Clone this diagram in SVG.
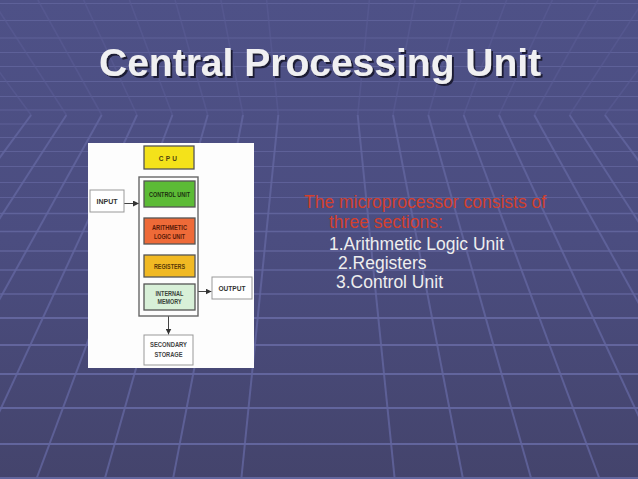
<svg xmlns="http://www.w3.org/2000/svg" width="638" height="479" viewBox="0 0 638 479">
  <defs>
    <linearGradient id="bg" x1="0" y1="0" x2="0" y2="1">
      <stop offset="0" stop-color="#4e5187"/>
      <stop offset="0.5" stop-color="#4b4d80"/>
      <stop offset="1" stop-color="#44446c"/>
    </linearGradient>
    <filter id="shadow" x="-5%" y="-20%" width="110%" height="150%">
      <feOffset in="SourceAlpha" dx="2" dy="2" result="off"/>
      <feFlood flood-color="#1e1e36" result="col"/>
      <feComposite in="col" in2="off" operator="in" result="sh"/>
      <feMerge>
        <feMergeNode in="sh"/>
        <feMergeNode in="SourceGraphic"/>
      </feMerge>
    </filter>
    <marker id="ah" viewBox="0 0 6 6" refX="6" refY="3" markerWidth="6" markerHeight="6" orient="auto" markerUnits="userSpaceOnUse">
      <path d="M0,0 L6,3 L0,6 Z" fill="#333"/>
    </marker>
    <style>
      .hl { stroke: #6669a2; fill: none; }
      .hu { stroke-width: 1.2; opacity: 0.7; }
      .hm { stroke-width: 1.6; opacity: 0.8; }
      .hb { stroke-width: 2.2; opacity: 0.9; }
      .vf { stroke: #6366a0; stroke-width: 2; fill: none; opacity: 0.8; }
      .vc { stroke: #5a5c95; stroke-width: 1.6; fill: none; opacity: 0.6; }
      .title { font-family: "Liberation Sans", Arial, sans-serif; font-weight: bold; font-size: 39px; }
      .body { font-family: "Liberation Sans", Arial, sans-serif; font-size: 17.5px; }
      .bx { stroke: #555; stroke-width: 1.3; }
      .bt { font-family: "Liberation Sans", Arial, sans-serif; font-weight: bold; font-size: 6.5px; text-anchor: middle; }
      .conn { stroke: #444; stroke-width: 1; fill: none; }
    </style>
  </defs>

  <!-- background -->
  <rect x="0" y="0" width="638" height="479" fill="url(#bg)"/>
  <g id="background-grid">
    <g class="hl hu">
      <line x1="0" y1="3.5" x2="638" y2="3.5"/>
      <line x1="0" y1="20.5" x2="638" y2="20.5"/>
      <line x1="0" y1="38" x2="638" y2="38"/>
      <line x1="0" y1="52.5" x2="638" y2="52.5"/>
      <line x1="0" y1="66.5" x2="638" y2="66.5"/>
      <line x1="0" y1="81.5" x2="638" y2="81.5"/>
      <line x1="0" y1="96.5" x2="638" y2="96.5"/>
      <line x1="0" y1="110" x2="638" y2="110"/>
      <line x1="0" y1="124" x2="638" y2="124"/>
      <line x1="0" y1="137.5" x2="638" y2="137.5"/>
      <line x1="0" y1="151.5" x2="638" y2="151.5"/>
      <line x1="0" y1="166.5" x2="638" y2="166.5"/>
      <line x1="0" y1="182.5" x2="638" y2="182.5"/>
      <line x1="0" y1="197.5" x2="638" y2="197.5"/>
    </g>
    <g class="hl hm">
      <line x1="0" y1="213.5" x2="638" y2="213.5"/>
      <line x1="0" y1="231.5" x2="638" y2="231.5"/>
      <line x1="0" y1="251" x2="638" y2="251"/>
      <line x1="0" y1="270" x2="638" y2="270"/>
      <line x1="0" y1="294" x2="638" y2="294"/>
    </g>
    <g class="hl hb">
      <line x1="0" y1="318" x2="638" y2="318"/>
      <line x1="0" y1="345" x2="638" y2="345"/>
      <line x1="0" y1="374" x2="638" y2="374"/>
      <line x1="0" y1="408" x2="638" y2="408"/>
      <line x1="0" y1="444" x2="638" y2="444"/>
      <line x1="0" y1="478" x2="638" y2="478"/>
    </g>
    <g class="vf">
      <line x1="278.3" y1="115" x2="241.3" y2="479"/>
      <line x1="243" y1="115" x2="173" y2="479"/>
      <line x1="207.7" y1="115" x2="104.7" y2="479"/>
      <line x1="172.4" y1="115" x2="36.4" y2="479"/>
      <line x1="137" y1="115" x2="-31.9" y2="479"/>
      <line x1="101.7" y1="115" x2="-100.2" y2="479"/>
      <line x1="66.4" y1="115" x2="-168.5" y2="479"/>
      <line x1="31.1" y1="115" x2="-236.8" y2="479"/>
      <line x1="357.7" y1="115" x2="394.7" y2="479"/>
      <line x1="393" y1="115" x2="463" y2="479"/>
      <line x1="428.3" y1="115" x2="531.3" y2="479"/>
      <line x1="463.6" y1="115" x2="599.6" y2="479"/>
      <line x1="499" y1="115" x2="667.9" y2="479"/>
      <line x1="534.3" y1="115" x2="736.2" y2="479"/>
      <line x1="569.6" y1="115" x2="804.5" y2="479"/>
      <line x1="604.9" y1="115" x2="872.8" y2="479"/>
    </g>
    <g class="vc">
      <line x1="278.3" y1="115" x2="266.6" y2="0"/>
      <line x1="243" y1="115" x2="220.9" y2="0"/>
      <line x1="207.7" y1="115" x2="175.1" y2="0"/>
      <line x1="172.4" y1="115" x2="129.4" y2="0"/>
      <line x1="137" y1="115" x2="83.6" y2="0"/>
      <line x1="101.7" y1="115" x2="37.9" y2="0"/>
      <line x1="66.4" y1="115" x2="-7.9" y2="0"/>
      <line x1="31.1" y1="115" x2="-53.6" y2="0"/>
      <line x1="357.7" y1="115" x2="369.4" y2="0"/>
      <line x1="393" y1="115" x2="415.1" y2="0"/>
      <line x1="428.3" y1="115" x2="460.9" y2="0"/>
      <line x1="463.6" y1="115" x2="506.6" y2="0"/>
      <line x1="499" y1="115" x2="552.4" y2="0"/>
      <line x1="534.3" y1="115" x2="598.1" y2="0"/>
      <line x1="569.6" y1="115" x2="643.9" y2="0"/>
      <line x1="604.9" y1="115" x2="689.6" y2="0"/>
    </g>
  </g>

  <g id="title">
    <text class="title" x="99" y="76" fill="#f0f0f2" filter="url(#shadow)">Central Processing Unit</text>
  </g>

  <rect id="panel" x="88" y="143" width="166" height="225" fill="#fdfdfd"/>

  <g id="connectors">
    <line class="conn" x1="124" y1="203.5" x2="139" y2="203.5" marker-end="url(#ah)"/>
    <line class="conn" x1="198" y1="291.5" x2="211.5" y2="291.5" marker-end="url(#ah)"/>
    <line class="conn" x1="168.5" y1="316" x2="168.5" y2="334.5" marker-end="url(#ah)"/>
  </g>

  <g id="cpu-label">
    <rect class="bx" x="144" y="146" width="50" height="23" fill="#f4e21a"/>
    <text class="bt" x="169" y="161" font-size="9px" fill="#4d4110" letter-spacing="2.2">CPU</text>
  </g>

  <g id="cpu-container">
    <rect x="139" y="177" width="59" height="139" fill="none" stroke="#666" stroke-width="1.4"/>
  </g>

  <g id="control-unit">
    <rect class="bx" x="144" y="181" width="51" height="26" fill="#5cbb36"/>
    <text class="bt" x="169.5" y="196.5" fill="#1c3310" textLength="41" lengthAdjust="spacingAndGlyphs">CONTROL UNIT</text>
  </g>

  <g id="alu">
    <rect class="bx" x="144" y="218" width="51" height="26" fill="#ee6a38"/>
    <text class="bt" x="169.5" y="230" fill="#5a1a08" textLength="35" lengthAdjust="spacingAndGlyphs">ARITHMETIC</text>
    <text class="bt" x="169.5" y="238.5" fill="#5a1a08" textLength="31" lengthAdjust="spacingAndGlyphs">LOGIC UNIT</text>
  </g>

  <g id="registers">
    <rect class="bx" x="144" y="255" width="51" height="22" fill="#f1b923"/>
    <text class="bt" x="169.5" y="269" fill="#5a3a08" textLength="31" lengthAdjust="spacingAndGlyphs">REGISTERS</text>
  </g>

  <g id="internal-memory">
    <rect class="bx" x="144" y="284" width="51" height="26" fill="#d8f0d8"/>
    <text class="bt" x="169.5" y="295.5" fill="#3a443a" textLength="28" lengthAdjust="spacingAndGlyphs">INTERNAL</text>
    <text class="bt" x="169.5" y="303.5" fill="#3a443a" textLength="24" lengthAdjust="spacingAndGlyphs">MEMORY</text>
  </g>

  <g id="input">
    <rect x="90" y="190" width="34" height="22" fill="#ffffff" stroke="#999" stroke-width="1"/>
    <text class="bt" x="107" y="203.5" font-size="7.5px" fill="#333" textLength="21" lengthAdjust="spacingAndGlyphs">INPUT</text>
  </g>

  <g id="output">
    <rect x="212" y="277" width="40" height="22" fill="#ffffff" stroke="#999" stroke-width="1"/>
    <text class="bt" x="232" y="290.5" font-size="7.5px" fill="#333" textLength="27" lengthAdjust="spacingAndGlyphs">OUTPUT</text>
  </g>

  <g id="secondary-storage">
    <rect x="144" y="335" width="49" height="30" fill="#ffffff" stroke="#999" stroke-width="1"/>
    <text class="bt" x="168.5" y="347" fill="#444" textLength="37" lengthAdjust="spacingAndGlyphs">SECONDARY</text>
    <text class="bt" x="168.5" y="357" fill="#444" textLength="28" lengthAdjust="spacingAndGlyphs">STORAGE</text>
  </g>

  <g id="description" class="body">
    <text x="304" y="208" fill="#d2402e">The microprocessor consists of</text>
    <text x="329" y="227.5" fill="#d2402e">three sections:</text>
    <text x="329" y="250" fill="#eeeeee">1.Arithmetic Logic Unit</text>
    <text x="338" y="269" fill="#eeeeee">2.Registers</text>
    <text x="336" y="288" fill="#eeeeee">3.Control Unit</text>
  </g>
</svg>
